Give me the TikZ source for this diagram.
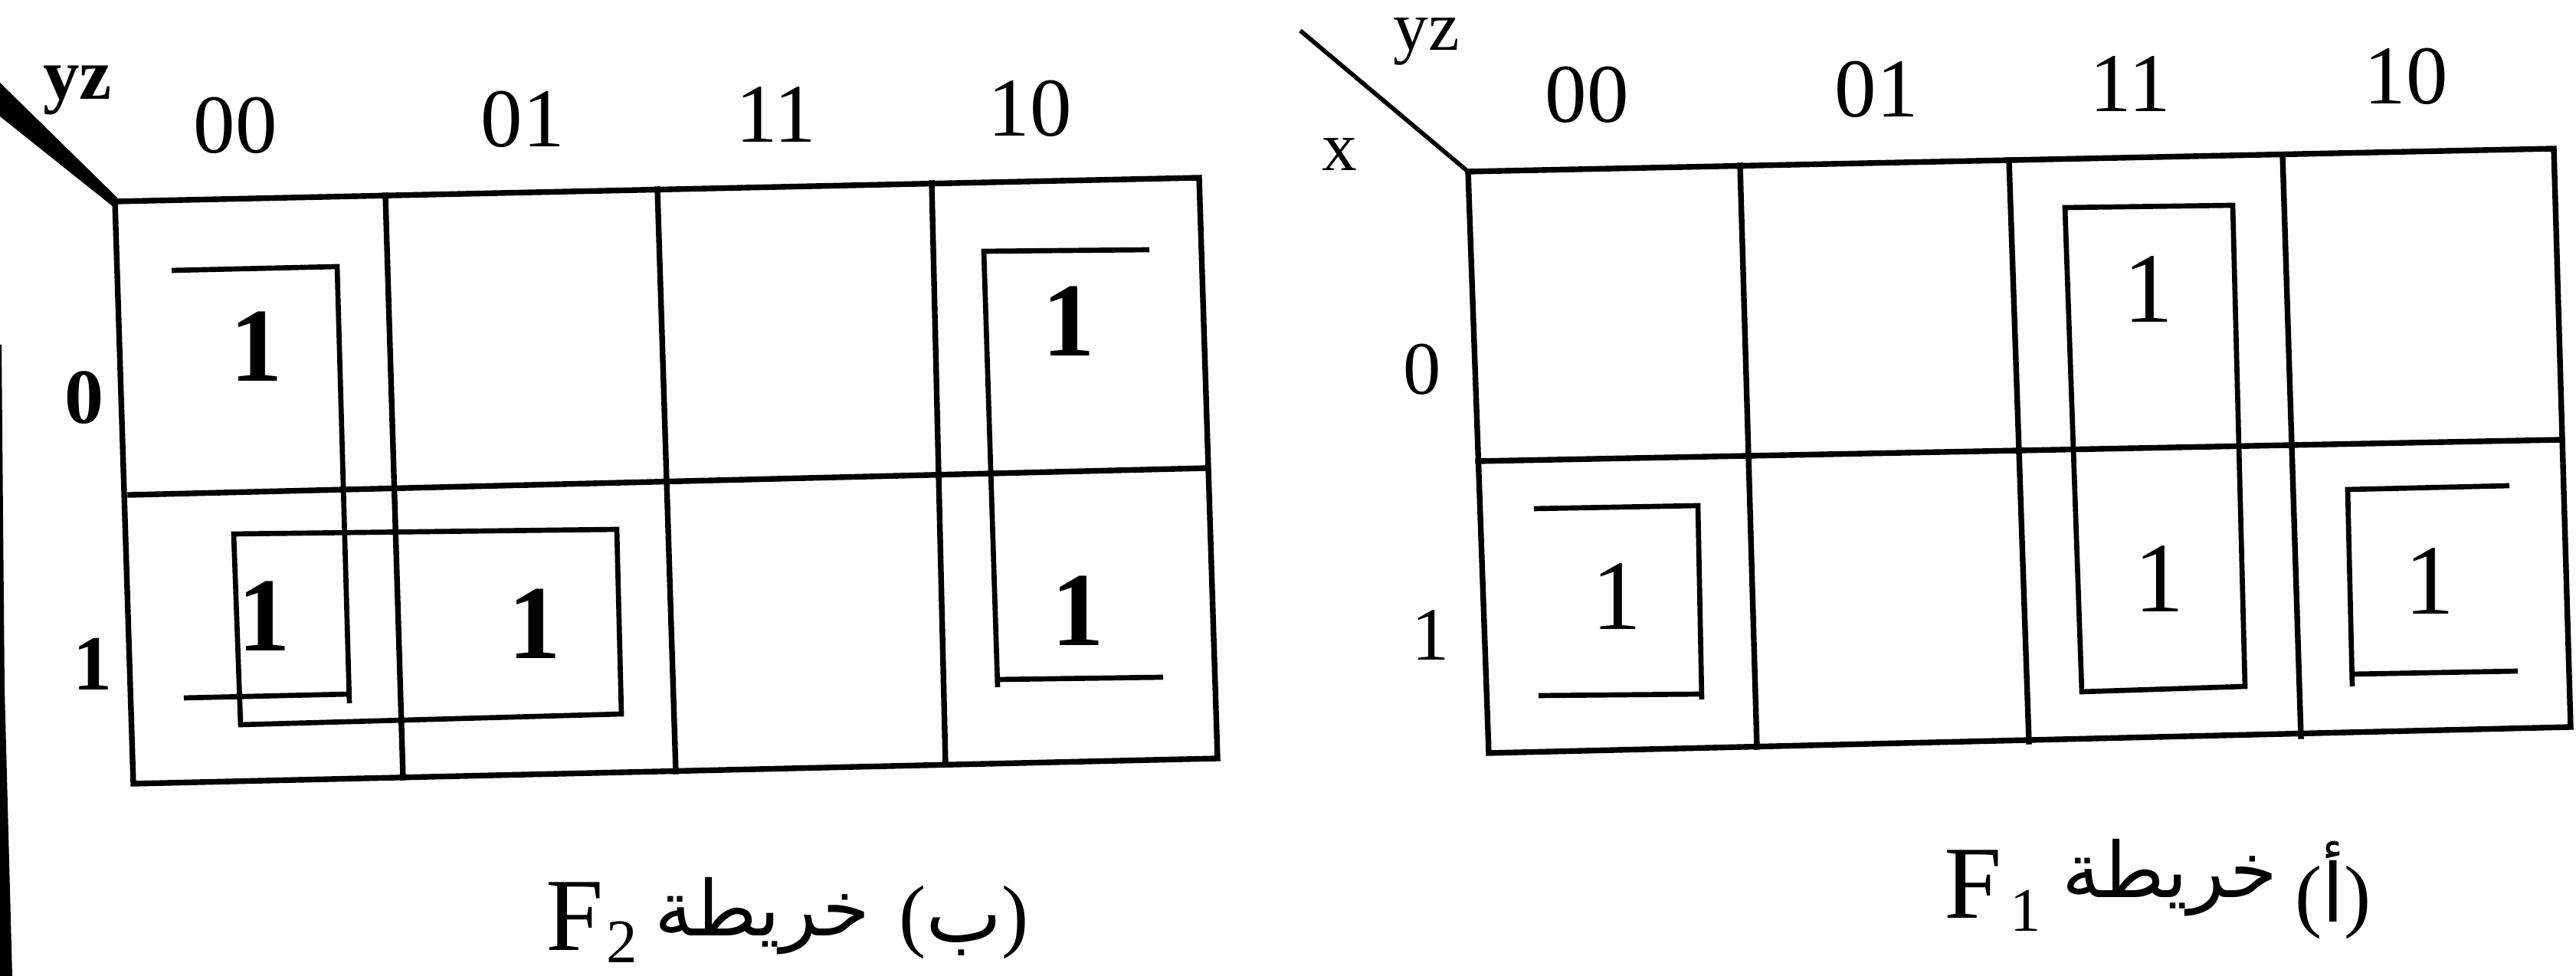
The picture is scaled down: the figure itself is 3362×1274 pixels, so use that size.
\documentclass[tikz,border=0pt]{standalone}
\usepackage{fontspec}
\setmainfont{Liberation Serif}
\newfontfamily\arabicfont[Script=Arabic]{DejaVu Sans}
\TeXXeTstate=1
\begin{document}
\begin{tikzpicture}[x=0.01cm,y=-0.01cm,
  gridline/.style={line width=2.1pt, line join=miter, line cap=rect},
  grpline/.style={line width=1.9pt, line join=miter},
  collbl/.style={inner sep=0pt, font=\fontsize{31}{31}\selectfont},
  rowlblB/.style={inner sep=0pt, font=\fontsize{29}{29}\selectfont\bfseries},
  rowlbl/.style={inner sep=0pt, font=\fontsize{28}{28}\selectfont},
  oneB/.style={inner sep=0pt, font=\fontsize{39}{39}\selectfont\bfseries},
  oneR/.style={inner sep=0pt, font=\fontsize{37}{37}\selectfont},
  captF/.style={inner sep=0pt, anchor=base west, font=\fontsize{38.5}{38.5}\selectfont},
  captA/.style={inner sep=0pt, anchor=base, font=\fontsize{28.5}{28.5}\selectfont\arabicfont},
  captP/.style={inner sep=0pt, font=\fontsize{30}{30}\selectfont}
]
\fill[white] (0,0) rectangle (3362,1274);
\useasboundingbox (0,0) rectangle (3362,1274);

% scan edge at the left
\fill[black] (0,450) -- (2,450) -- (6,900) -- (16,1274) -- (0,1274) -- cycle;

% ================= left map (F2) =================
\fill[black] (0,108) -- (153,258) -- (148,270) -- (0,152) -- cycle;
\draw[gridline] (150,263) -- (1565,232) -- (1589,990) -- (174,1023) -- cycle;
\draw[gridline] (170,646) -- (1576,611);
\draw[gridline] (503,255) -- (526,1015);
\draw[gridline] (858,247) -- (882,1007);
\draw[gridline] (1216,239) -- (1234,998);

\node[inner sep=0pt, font=\fontsize{27}{27}\selectfont\bfseries] (lyz) at (101,118) {yz};
\node[collbl] (lc00) at (307,164) {00};
\node[collbl] (lc01) at (682,156) {01};
\node[collbl] (lc11) at (1013,150) {11};
\node[collbl] (lc10) at (1344,142) {10};
\node[rowlblB] (lr0) at (110,519) {0};
\node[rowlblB] (lr1) at (121,867) {1};

\node[oneB] (l00) at (335,452) {1};
\node[oneB] (l03) at (1395,419) {1};
\node[oneB] (l10) at (345,804) {1};
\node[oneB] (l11) at (698,814) {1};
\node[oneB] (l13) at (1407,797) {1};

\draw[grpline] (224,353) -- (440,348) -- (456,918);
\draw[grpline] (240,911) -- (456,906);
\draw[grpline] (1500,326) -- (1284,328) -- (1302,897);
\draw[grpline] (1302,887) -- (1518,884);
\draw[grpline] (305,697) -- (805,691) -- (811,932) -- (314,946) -- cycle;

% ================= right map (F1) =================
\draw[line width=1.6pt] (1697,40) -- (1916,224);
\draw[gridline] (1916,224) -- (3333,194) -- (3355,949) -- (1943,983) -- cycle;
\draw[gridline] (1929,602) -- (3344,574);
\draw[gridline] (2271,216) -- (2293,975);
\draw[gridline] (2622,209) -- (2648,968);
\draw[gridline] (2979,202) -- (3003,961);

\node[inner sep=0pt, font=\fontsize{26}{26}\selectfont] (ryz) at (1862,54) {yz};
\node[inner sep=0pt, font=\fontsize{26}{26}\selectfont] (rx) at (1748,202) {x};
\node[collbl] (rc00) at (2071,124) {00};
\node[collbl] (rc01) at (2449,117) {01};
\node[collbl] (rc11) at (2780,110) {11};
\node[collbl] (rc10) at (3140,100) {10};
\node[rowlbl] (rr0) at (1856,482) {0};
\node[rowlbl] (rr1) at (1867,829) {1};

\node[oneR] (r02) at (2804,378) {1};
\node[oneR] (r10) at (2110,779) {1};
\node[oneR] (r12) at (2818,756) {1};
\node[oneR] (r13) at (3171,759) {1};

\draw[grpline] (2695,271) -- (2914,268) -- (2930,896) -- (2717,903) -- cycle;
\draw[grpline] (2002,664) -- (2216,660) -- (2221,913);
\draw[grpline] (2008,908) -- (2221,906);
\draw[grpline] (3275,634) -- (3064,639) -- (3070,896);
\draw[grpline] (3070,880) -- (3286,876);

% ================= captions =================
% left: F2 map (b)
\node[captF] (capLF) at (712,1241) {F\kern1pt\raisebox{-4.3pt}{\fontsize{23}{23}\selectfont 2}};
\node[captA] (capLW) at (995,1222) {\beginR خريطة\endR};
\node[captP] (capLP) at (1258,1204) {({\arabicfont\beginR ب\endR})};
% right: F1 map (a)
\node[captF] (capRF) at (2537,1199) {F\kern3pt\raisebox{-4.8pt}{\fontsize{23}{23}\selectfont 1}};
\node[captA] (capRW) at (2832,1172) {\beginR خريطة\endR};
\node[captP] (capRP) at (3045,1162) {({\arabicfont\beginR أ\endR})};
\end{tikzpicture}
\end{document}
